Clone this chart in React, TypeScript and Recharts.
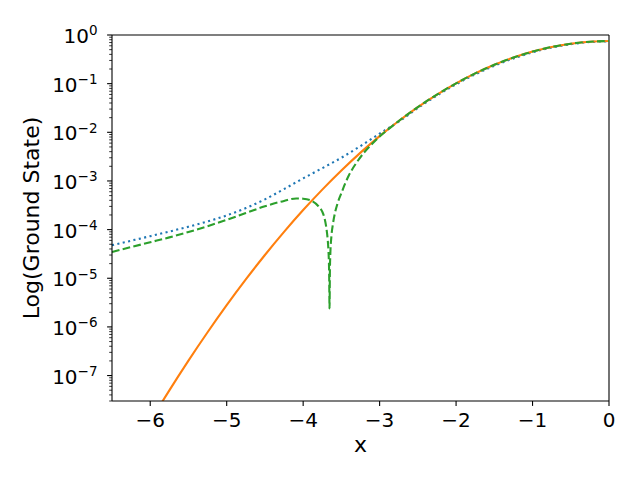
import React from "react";
import { LineChart, Line, XAxis, YAxis, ReferenceLine } from "recharts";

// x samples and values (log y axis)
const blueX = [-6.5, -6.25, -6, -5.75, -5.5, -5.25, -5, -4.75, -4.5, -4.25, -4, -3.75, -3.5, -3.25, -3, -2.75, -2.5, -2.25, -2, -1.75, -1.5, -1.25, -1, -0.75, -0.5, -0.25, 0];
const blueY = [4.79e-5, 5.92e-5, 7.33e-5, 9.12e-5, 1.148e-4, 1.47e-4, 1.96e-4, 2.77e-4, 4.19e-4, 6.8e-4, 1.129e-3, 1.83e-3, 3.0e-3, 5.22e-3, 9.39e-3, 1.66e-2, 3.16e-2, 5.7e-2, 9.7e-2, 0.155, 0.233, 0.33, 0.44, 0.552, 0.647, 0.716, 0.743];

const orangeX = [-6.5, -6.25, -6, -5.75, -5.5, -5.25, -5, -4.75, -4.5, -4.25, -4, -3.75, -3.5, -3.25, -3, -2.75, -2.5, -2.25, -2, -1.75, -1.5, -1.25, -1, -0.75, -0.5, -0.25, 0];
const orangeY = [5.0e-10, 2.47e-9, 1.14e-8, 4.97e-8, 2.03e-7, 7.77e-7, 2.8e-6, 9.47e-6, 3.01e-5, 8.98e-5, 2.52e-4, 6.64e-4, 1.64e-3, 3.82e-3, 8.34e-3, 1.71e-2, 3.3e-2, 5.97e-2, 0.1016, 0.1625, 0.2438, 0.3439, 0.4556, 0.5669, 0.6628, 0.7279, 0.7511];

const greenX = [-6.5, -6.25, -6, -5.75, -5.5, -5.25, -5, -4.75, -4.5, -4.25, -4.09, -4, -3.9, -3.8, -3.75, -3.72, -3.7, -3.68, -3.67, -3.66, -3.655, -3.65, -3.645, -3.63, -3.61, -3.58, -3.55, -3.5, -3.45, -3.4, -3.35, -3.3, -3.2, -3.1, -3, -2.9, -2.75, -2.5, -2.25, -2, -1.75, -1.5, -1.25, -1, -0.75, -0.5, -0.25, 0];
const greenY = [3.47e-5, 4.37e-5, 5.5e-5, 6.92e-5, 8.91e-5, 1.175e-4, 1.585e-4, 2.19e-4, 3.02e-4, 3.89e-4, 4.37e-4, 4.32e-4, 3.98e-4, 3.02e-4, 2.34e-4, 1.7e-4, 1.175e-4, 6.46e-5, 3.89e-5, 1.29e-5, 2.4e-6, 1.48e-5, 3.02e-5, 7.41e-5, 1.32e-4, 2.34e-4, 3.47e-4, 5.62e-4, 8.91e-4, 1.32e-3, 1.82e-3, 2.4e-3, 3.89e-3, 5.75e-3, 8.22e-3, 1.11e-2, 1.71e-2, 3.3e-2, 5.97e-2, 0.1016, 0.1625, 0.2438, 0.3439, 0.4556, 0.5669, 0.6628, 0.7279, 0.7511];

const xTicks = [-6, -5, -4, -3, -2, -1, 0];
const yMajor = [1e-7, 1e-6, 1e-5, 1e-4, 1e-3, 1e-2, 1e-1, 1];
const yMin = 3e-8;
const yMax = 1;

// log minor ticks 2..9 per decade
const yMinor = [1e-8, ...yMajor.slice(0, -1)].flatMap((d) =>
    [2, 3, 4, 5, 6, 7, 8, 9].map((m) => m * d).filter((v) => v >= yMin && v < yMax)
);
const yTicks = [...yMajor, ...yMinor].sort((a, b) => a - b);

const toPoints = (xs: number[], ys: number[]) => xs.map((x, i) => ({ x, y: ys[i] }));

const FONT = "'DejaVu Sans', sans-serif";

const YTick = (props: any) => {
    const { x, y, payload } = props;
    const lg = Math.log10(payload.value);
    const e = Math.round(lg);
    const major = Math.abs(lg - e) < 1e-6;
    return (
        <g>
            <line x1={x - (major ? 4.9 : 2.8)} x2={x} y1={y} y2={y} stroke="#000" strokeWidth={major ? 1.1 : 0.8} />
            {major && (
                <text x={x - 14.5} y={y + 8} textAnchor="end" fontSize={20} fill="#000" fontFamily={FONT}>
                    10
                    <tspan dy={-7.7} fontSize={13.5}>{e === 0 ? "0" : "\u2212" + Math.abs(e)}</tspan>
                </text>
            )}
        </g>
    );
};

const XTick = (props: any) => {
    const { x, y, payload } = props;
    const v = payload.value;
    return (
        <text x={x} y={y + 21} textAnchor="middle" fontSize={20} fill="#000" fontFamily={FONT}>
            {v < 0 ? "\u2212" + Math.abs(v) : String(v)}
        </text>
    );
};

export default function App() {
    return (
        <div style={{ position: "absolute", left: 0, top: 0, width: 640, height: 480, background: "#fff", fontFamily: FONT }}>
            <LineChart width={640} height={480} margin={{ top: 35, right: 31, bottom: 0, left: 0 }}>
                <XAxis
                    type="number"
                    dataKey="x"
                    domain={[-6.5, 0]}
                    allowDataOverflow
                    ticks={xTicks}
                    interval={0}
                    height={79}
                    tickSize={4.9}
                    tickMargin={0}
                    tickLine={{ stroke: "#000", strokeWidth: 1.1 }}
                    axisLine={{ stroke: "#000", strokeWidth: 1.1 }}
                    tick={<XTick />}
                    label={{
                        content: () => (
                            <text x={360.5} y={452} textAnchor="middle" fontSize={22} fill="#000" fontFamily={FONT}>
                                x
                            </text>
                        ),
                    }}
                />
                <YAxis
                    type="number"
                    scale="log"
                    domain={[yMin, yMax]}
                    allowDataOverflow
                    ticks={yTicks}
                    interval={0}
                    width={112}
                    tickSize={0}
                    tickMargin={0}
                    tickLine={false}
                    axisLine={{ stroke: "#000", strokeWidth: 1.1 }}
                    tick={<YTick />}
                    label={{
                        content: () => (
                            <text
                                x={39}
                                y={218}
                                transform="rotate(-90, 39, 218)"
                                textAnchor="middle"
                                fontSize={22}
                                fill="#000"
                                fontFamily={FONT}
                            >
                                Log(Ground State)
                            </text>
                        ),
                    }}
                />
                {/* top and right spines */}
                <ReferenceLine y={yMax} stroke="#000" strokeWidth={1.1} />
                <ReferenceLine x={0} stroke="#000" strokeWidth={1.1} />
                <Line
                    data={toPoints(blueX, blueY)}
                    dataKey="y"
                    type="monotone"
                    stroke="#1f77b4"
                    strokeWidth={2.1}
                    strokeDasharray="2.1 3.4"
                    dot={false}
                    activeDot={false}
                    isAnimationActive={false}
                />
                <Line
                    data={toPoints(orangeX, orangeY)}
                    dataKey="y"
                    type="monotone"
                    stroke="#ff7f0e"
                    strokeWidth={2.1}
                    dot={false}
                    activeDot={false}
                    isAnimationActive={false}
                />
                <Line
                    data={toPoints(greenX, greenY)}
                    dataKey="y"
                    type="monotone"
                    stroke="#2ca02c"
                    strokeWidth={2.1}
                    strokeDasharray="7.7 3.3"
                    dot={false}
                    activeDot={false}
                    isAnimationActive={false}
                />
            </LineChart>
        </div>
    );
}
